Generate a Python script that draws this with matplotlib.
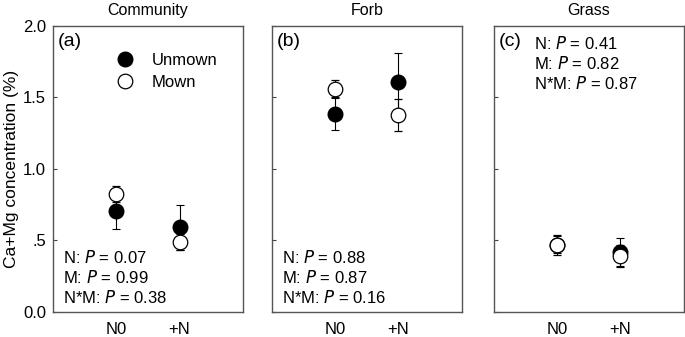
import matplotlib
matplotlib.use('Agg')
import matplotlib.pyplot as plt
from matplotlib.lines import Line2D
import numpy as np

plt.rcParams['font.family'] = ['Liberation Sans', 'DejaVu Sans']

# data
panels = ['Community', 'Forb', 'Grass']
letters = ['(a)', '(b)', '(c)']
groups = ['N0', '+N']
unmown = [[0.706, 0.592], [1.385, 1.611], [0.47, 0.42]]
unmown_err = [[0.125, 0.155], [0.11, 0.20], [0.06, 0.10]]
mown = [[0.825, 0.487], [1.56, 1.378], [0.47, 0.39]]
mown_err = [[0.055, 0.055], [0.06, 0.112], [0.07, 0.075]]
pvals = [['0.07', '0.99', '0.38'], ['0.88', '0.87', '0.16'], ['0.41', '0.82', '0.87']]

fs = 12
fig = plt.figure(figsize=(6.85, 3.37), dpi=100)
lefts = [0.0774, 0.397, 0.721]
x = np.array([1, 2])
for i in range(3):
    ax = fig.add_axes([lefts[i], 0.0742, 0.277, 0.8487])
    ax.errorbar(x, unmown[i], yerr=unmown_err[i], fmt='o', color='black', mfc='black',
                mec='black', ms=10.5, capsize=3, elinewidth=0.8, capthick=0.8, zorder=3)
    ax.errorbar(x, mown[i], yerr=mown_err[i], fmt='o', color='black', mfc='white',
                mec='black', ms=10.5, mew=0.9, capsize=3, elinewidth=0.8, capthick=0.8,
                zorder=4)
    ax.set_xlim(0, 3)
    ax.set_ylim(0, 2)
    ax.set_xticks(x)
    ax.set_xticklabels(groups, fontsize=fs)
    ax.tick_params(axis='x', length=0, pad=7)
    ax.set_yticks([0, 0.5, 1.0, 1.5, 2.0])
    ax.tick_params(axis='y', direction='in', length=3, width=0.8, color='#444444', pad=5)
    if i == 0:
        ax.set_yticklabels(['0.0', '.5', '1.0', '1.5', '2.0'], fontsize=fs)
        ax.set_ylabel('Ca+Mg concentration (%)', fontsize=12.5, labelpad=3)
    else:
        ax.set_yticklabels([])
    for s in ax.spines.values():
        s.set_color('#555555')
        s.set_linewidth(1.0)
    ax.set_title(panels[i], fontsize=11.5, pad=8)
    ax.text(0.025, 0.975, letters[i], transform=ax.transAxes, fontsize=14, va='top', ha='left')
    lines = ['N: $\\it{P}$ = ' + pvals[i][0], 'M: $\\it{P}$ = ' + pvals[i][1],
             'N*M: $\\it{P}$ = ' + pvals[i][2]]
    if i < 2:
        for k, t in enumerate(lines):
            ax.text(0.055, 0.192 - k * 0.071, t, transform=ax.transAxes, fontsize=fs,
                    va='center', ha='left')
    else:
        for k, t in enumerate(lines):
            ax.text(0.21, 0.94 - k * 0.07, t, transform=ax.transAxes, fontsize=fs,
                    va='center', ha='left')
    if i == 0:
        handles = [Line2D([], [], marker='o', ls='none', mfc='black', mec='black', ms=10.5),
                   Line2D([], [], marker='o', ls='none', mfc='white', mec='black', ms=10.5,
                          mew=0.9)]
        ax.legend(handles, ['Unmown', 'Mown'], loc='upper left', bbox_to_anchor=(0.3, 0.93),
                  frameon=False, fontsize=fs, handlelength=1.0, handletextpad=1.1,
                  labelspacing=0.45, borderaxespad=0)

fig.savefig('out.png', dpi=100)
